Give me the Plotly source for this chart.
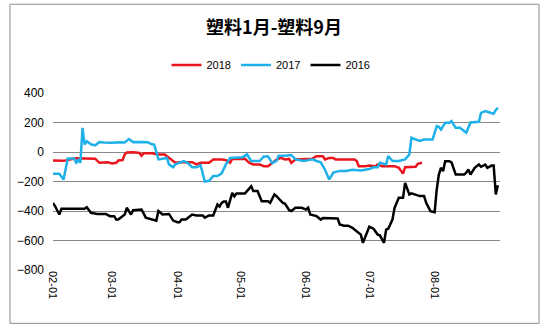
import pandas as pd
import plotly.graph_objects as go

# ---- data (day offsets from Feb 1 and values) ----
base = pd.Timestamp("2018-02-01")

days_2018 = [0, 5, 11, 16, 20, 22, 26, 28, 30, 31, 33, 34, 35, 38, 41, 42, 43, 47, 50, 53, 56, 58, 60,
             62, 66, 68, 70, 74, 76, 80, 82, 84, 85, 89, 91, 93, 95, 98, 100, 102, 104, 106, 108, 110,
             112, 113, 115, 118, 121, 123, 125, 128, 129, 131, 133, 134, 140, 143, 144, 145, 148, 150,
             153, 154, 156, 160, 162, 164, 166, 167, 170, 172, 173, 175]
vals_2018 = [-58, -60, -42, -45, -45, -73, -70, -78, -73, -58, -55, -17, -3, -2, -6, -25, -8, -8, -17, -17, -51, -73, -70,
             -69, -69, -84, -73, -73, -51, -51, -55, -73, -47, -47, -45, -73, -84, -84, -96, -96, -73, -51, -40, -51,
             -47, -73, -51, -47, -47, -45, -28, -28, -51, -40, -40, -51, -51, -51, -60, -96, -96, -92,
             -96, -84, -96, -96, -96, -107, -146, -103, -100, -100, -80, -73]

days_2017 = [0, 3, 5, 7, 10, 11, 12, 13, 14, 15, 16, 18, 20, 22, 24, 28, 32, 34, 36, 38, 42, 45, 47, 48,
             50, 52, 54, 55, 57, 58, 60, 62, 64, 66, 68, 70, 72, 74, 76, 78, 80, 82, 84, 87, 90, 92, 94,
             98, 100, 102, 104, 106, 107, 110, 113, 115, 117, 119, 121, 123, 125, 127, 129, 131, 133,
             136, 139, 142, 146, 150, 152, 154, 155, 157, 158, 159, 161, 164, 166, 167, 169, 170, 172,
             174, 176, 180, 181, 182, 183, 184, 186, 188, 189, 191, 193, 195, 196, 198, 202, 203, 205,
             207, 209, 210, 211]
vals_2017 = [-148, -148, -186, -44, -44, -73, -55, -73, 164, 51, 73, 52, 45, 67, 64, 62, 66, 64, 88, 67, 68, 66, 52, 50,
             -50, -45, -40, -84, -104, -84, -70, -61, -75, -104, -104, -90, -200, -195, -163, -163, -145, -84, -40, -35, -35, -16, -61,
             -61, -30, -30, -75, -60, -25, -25, -20, -50, -55, -61, -55, -50, -61, -70, -120, -186, -140,
             -128, -128, -120, -125, -115, -104, -104, -72, -80, -84, -27, -61, -61, -55, -50, -17, 96, 85,
             75, 85, 85, 130, 175, 170, 152, 198, 198, 209, 164, 164, 141, 130, 200, 205, 265, 277,
             268, 259, 285, 300]

days_2016 = [0, 1, 3, 4, 15, 16, 18, 21, 25, 27, 29, 30, 31, 34, 35, 37, 38, 41, 42, 44, 47, 49, 50, 52,
             55, 57, 59, 60, 61, 63, 66, 68, 71, 72, 74, 76, 78, 79, 80, 81, 82, 83, 85, 86, 87, 91, 92,
             94, 95, 97, 99, 102, 103, 105, 106, 109, 110, 112, 113, 115, 118, 120, 121, 122, 125, 127,
             128, 134, 135, 136, 138, 140, 142, 144, 146, 147, 149, 150, 152, 154, 155, 157, 158, 159,
             161, 162, 164, 166, 167, 168, 169, 170, 172, 174, 176, 177, 179, 181, 182, 183, 184, 185,
             186, 188, 189, 190, 191, 195, 196, 197, 198, 200, 202, 203, 205, 206, 208, 209, 210, 211]
vals_2016 = [-345, -368, -424, -385, -385, -375, -412, -420, -420, -435, -435, -458, -458, -424, -378, -424, -395, -395, -390, -445, -458, -465, -400, -424,
             -420, -465, -476, -476, -458, -458, -424, -430, -430, -445, -430, -430, -356, -370, -345, -335, -335, -378, -277, -300, -282, -282, -265,
             -232, -265, -265, -334, -334, -345, -288, -300, -345, -350, -395, -400, -378, -378, -390, -378, -424, -435, -458,
             -447, -447, -450, -492, -500, -500, -514, -537, -560, -616, -548, -507, -520, -560, -565, -616, -526, -520,
             -458, -378, -311, -311, -209, -254, -288, -280, -288, -299, -299, -345, -401, -408, -254, -153, -107, -130,
             -62, -62, -70, -107, -153, -153, -140, -119, -153, -107, -85, -100, -85, -107, -92, -92, -288, -225]

series_names = ["2018", "2017", "2016"]
series_colors = ["#e8161c", "#1eb0e8", "#000000"]
tick_labels = ["02-01", "03-01", "04-01", "05-01", "06-01", "07-01", "08-01"]
y_ticks = [400, 200, 0, -200, -400, -600, -800]


def to_dates(days):
    return [base + pd.Timedelta(days=d) for d in days]


fig = go.Figure()
for name, color, d, v in zip(series_names, series_colors,
                             [days_2018, days_2017, days_2016],
                             [vals_2018, vals_2017, vals_2016]):
    fig.add_trace(go.Scatter(x=to_dates(d), y=v, mode="lines", name=name,
                             line=dict(color=color, width=2.5)))

tick_vals = [pd.Timestamp("2018-" + t) for t in tick_labels]

L, R, T, B = 53, 48, 93, 58.5
W, H = 548, 329
pw, ph = W - L - R, H - T - B

fig.update_layout(
    width=W, height=H,
    margin=dict(l=L, r=R, t=T, b=B),
    paper_bgcolor="white", plot_bgcolor="white",
    title=dict(text="<b>塑料1月-塑料9月</b>", x=274 / W, xanchor="center",
               y=1 - 28 / H, yanchor="middle",
               font=dict(family="Noto Sans CJK SC", size=18, color="#000")),
    legend=dict(orientation="h", x=(271 - L) / pw, xanchor="center", y=(ph - (65 - T)) / ph,
                yanchor="middle", font=dict(family="Liberation Sans", size=11, color="#000"),
                itemwidth=30, tracegroupgap=0, bgcolor="rgba(0,0,0,0)"),
    showlegend=True,
    font=dict(family="Liberation Sans", size=11, color="#000"),
    xaxis=dict(type="date", range=[base, base + pd.Timedelta(days=212)],
               tickvals=tick_vals, ticktext=tick_labels, tickangle=90,
               showgrid=False, showline=False, zeroline=False, ticks="",
               tickfont=dict(size=11, color="#000")),
    yaxis=dict(range=[-800, 400], tickvals=y_ticks, showgrid=True,
               gridcolor="#878787", gridwidth=1, zeroline=False, showline=False,
               ticks="", ticklabelstandoff=8, tickfont=dict(size=12, color="#000")),
)

# outer chart border
fig.add_shape(type="rect", xref="paper", yref="paper",
              x0=(10 - L) / pw, x1=(539 - L) / pw,
              y0=(ph - (324 - T)) / ph, y1=(ph - (4 - T)) / ph,
              line=dict(color="#8c8c8c", width=1), fillcolor="rgba(0,0,0,0)", layer="below")

fig.write_html("out.html")
